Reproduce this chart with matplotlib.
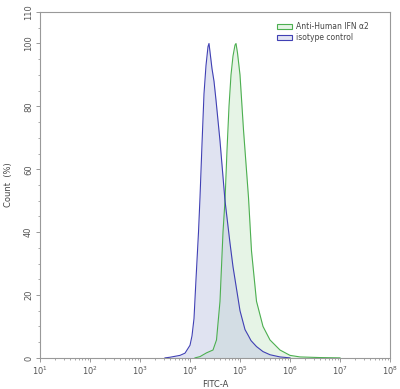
import numpy as np
import matplotlib
matplotlib.use("Agg")
import matplotlib.pyplot as plt
from matplotlib.patches import Patch
from matplotlib.ticker import MultipleLocator, FixedLocator, LogLocator, NullFormatter

# ---------------------------------------
# DATA
# ---------------------------------------

# isotype control: log10(FITC-A) and count (%)
iso_log = [3.5, 3.6, 3.7, 3.8, 3.9, 4.0, 4.04, 4.08, 4.12, 4.17, 4.2, 4.24,
           4.28, 4.32, 4.36, 4.38, 4.41, 4.44, 4.48, 4.52, 4.6, 4.7, 4.8, 4.86,
           5.0, 5.1, 5.17, 5.22, 5.33, 5.46, 5.6, 5.8, 6.0]
iso_count = [0, 0.2, 0.5, 0.8, 1.5, 4.0, 7.0, 12.5, 25, 40, 51, 68,
             84, 93, 99, 100, 96, 92, 88, 82, 69, 50, 36.5, 29,
             15, 9, 7.0, 5.5, 3.6, 2.0, 1.0, 0.3, 0]

# Anti-Human IFN a2
ifn_log = [4.1, 4.2, 4.33, 4.46, 4.53, 4.6, 4.66, 4.7, 4.74, 4.78, 4.82,
           4.86, 4.9, 4.92, 4.95, 5.0, 5.07, 5.17, 5.23, 5.33, 5.46, 5.6,
           5.8, 6.0, 6.2, 6.6, 7.0]
ifn_count = [0, 0.4, 1.6, 2.5, 5.7, 18, 40, 50, 66, 80, 90,
             96, 99.5, 100, 97, 90, 72.5, 51, 34, 18, 10, 5.7,
             2.5, 0.8, 0.3, 0.1, 0]

xtick_pos = [1, 2, 3, 4, 5, 6, 7, 8]
ytick_pos = [0, 20, 40, 60, 80, 100, 110]

green_line = "#4caf50"
green_fill = "#e6f4e6"
blue_line = "#4040b4"
blue_fill = "#bcc3e2"

# ---------------------------------------
# PLOT
# ---------------------------------------

fig = plt.figure(figsize=(4.0, 3.89), dpi=100)
ax = fig.add_axes([0.1, 0.08, 0.875, 0.889])

ifn_x = 10 ** np.array(ifn_log)
iso_x = 10 ** np.array(iso_log)

ax.fill_between(ifn_x, ifn_count, color=green_fill, lw=0)
ax.plot(ifn_x, ifn_count, color=green_line, lw=0.8)
ax.fill_between(iso_x, iso_count, color=blue_fill, alpha=0.45, lw=0)
ax.plot(iso_x, iso_count, color=blue_line, lw=0.8)

ax.set_xscale("log")
ax.set_xlim(10 ** 1, 10 ** 8)
ax.set_ylim(0, 110)

ax.set_xticks([10 ** p for p in xtick_pos])
ax.set_xticklabels([f"$10^{{{p}}}$" for p in xtick_pos], fontsize=6, color="#555555")
ax.xaxis.set_minor_locator(LogLocator(base=10, subs=np.arange(2, 10)))
ax.xaxis.set_minor_formatter(NullFormatter())

ax.yaxis.set_major_locator(FixedLocator(ytick_pos))
ax.set_yticklabels([str(v) for v in ytick_pos], fontsize=6, rotation=90,
                   va="center", color="#555555")
ax.yaxis.set_minor_locator(MultipleLocator(5))

ax.tick_params(axis="both", which="major", length=3, width=0.6, color="#888888", pad=2)
ax.tick_params(axis="both", which="minor", length=1.5, width=0.5, color="#888888")

for sp in ax.spines.values():
    sp.set_color("#999999")
    sp.set_linewidth(0.8)

ax.set_xlabel("FITC-A", fontsize=6, color="#444444", labelpad=2)
ax.set_ylabel("Count  (%)", fontsize=6, color="#444444", labelpad=8)

handles = [
    Patch(facecolor=green_fill, edgecolor=green_line, lw=0.8, label="Anti-Human IFN \u03b12"),
    Patch(facecolor="#e2e5f3", edgecolor=blue_line, lw=0.8, label="isotype control"),
]
ax.legend(handles=handles, loc="upper right", bbox_to_anchor=(0.96, 0.99), frameon=False,
          fontsize=5.5, handlelength=2.0, handleheight=0.6, labelspacing=0.2,
          handletextpad=0.6, labelcolor="#444444")

fig.savefig("out.png", dpi=100)
